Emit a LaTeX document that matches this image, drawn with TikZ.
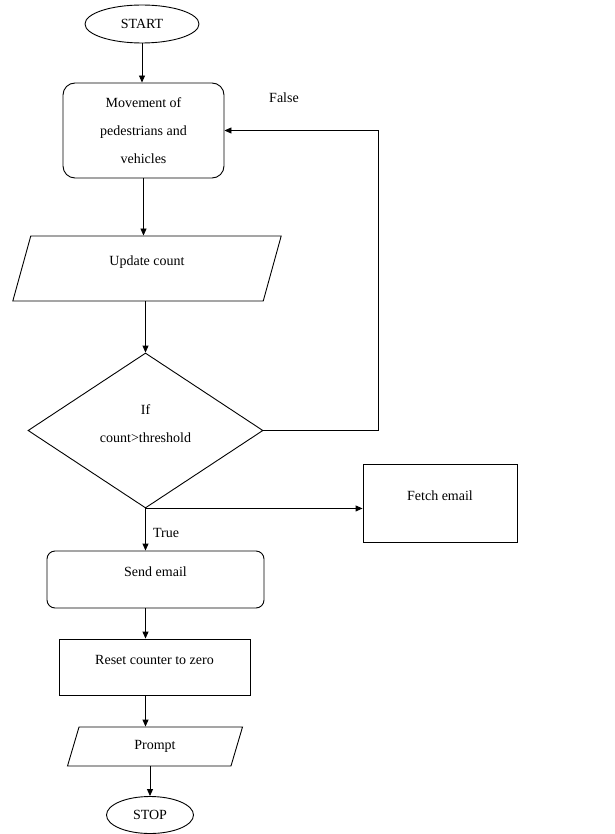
\documentclass[tikz,border=0pt]{standalone}
\usepackage{fontspec}
\setmainfont{Liberation Serif}
\usetikzlibrary{shapes.geometric,arrows.meta}
\tikzset{
  base/.style={draw=black, line width=0.9pt, font=\fontsize{14}{17}\selectfont, inner sep=2pt},
  term/.style={base, ellipse},
  proc/.style={base, rectangle, rounded corners=12pt},
  io/.style={base, trapezium, trapezium left angle=78, trapezium right angle=102, trapezium stretches=true},
  dec/.style={base, diamond, aspect=1.5, align=center},
  box/.style={base, rectangle},
  raised/.style={text depth=15pt},
  arr/.style={draw=black, line width=0.9pt, -{Triangle[length=7pt,width=6pt]}},
  lab/.style={font=\fontsize{14}{17}\selectfont},
}
\begin{document}
\begin{tikzpicture}[x=1pt, y=-1pt]
  \useasboundingbox (0,0) rectangle (614,834);
  \node[term, minimum width=114pt, minimum height=38pt] (start) at (142,24) {START};
  \node[proc, minimum width=161pt, minimum height=95pt, align=center, font=\fontsize{14}{28}\selectfont] (move) at (143.5,130.5) {Movement of\\pedestrians and\\vehicles};
  \node[io, raised, minimum width=270pt, minimum height=65pt] (upd) at (147,268.5) {Update count};
  \node[dec, minimum width=235pt, minimum height=155pt, font=\fontsize{14}{28}\selectfont, text depth=14pt] (cond) at (145.5,430.5) {If\\count>threshold};
  \node[box, raised, minimum width=154pt, minimum height=78pt] (fetch) at (440,503) {Fetch email};
  \node[proc, raised, rounded corners=8pt, minimum width=217pt, minimum height=57pt] (send) at (155.5,579.5) {Send email};
  \node[box, raised, minimum width=191pt, minimum height=56pt] (reset) at (154.5,667) {Reset counter to zero};
  \node[io, minimum width=176pt, minimum height=39pt] (prompt) at (155,746.5) {Prompt};
  \node[term, minimum width=87pt, minimum height=37pt] (stop) at (150,815) {STOP};
  \node[lab] (lfalse) at (284,98) {False};
  \node[lab] (ltrue) at (166,533) {True};
  \draw[arr] (start) -- (start |- move.north);
  \draw[arr] (move) -- (move |- upd.north);
  \draw[arr] (cond.north |- upd.south) -- (cond.north);
  \draw[arr] (cond.east) -- ++(115,0) |- (move.east);
  \draw[arr] (cond.south) -- (cond.south -| fetch.west);
  \draw[arr] (cond.south) -- (cond.south |- send.north);
  \draw[arr] (cond.south |- send.south) -- (cond.south |- reset.north);
  \draw[arr] (cond.south |- reset.south) -- (cond.south |- prompt.north);
  \draw[arr] (stop |- prompt.south) -- (stop);
\end{tikzpicture}
\end{document}
